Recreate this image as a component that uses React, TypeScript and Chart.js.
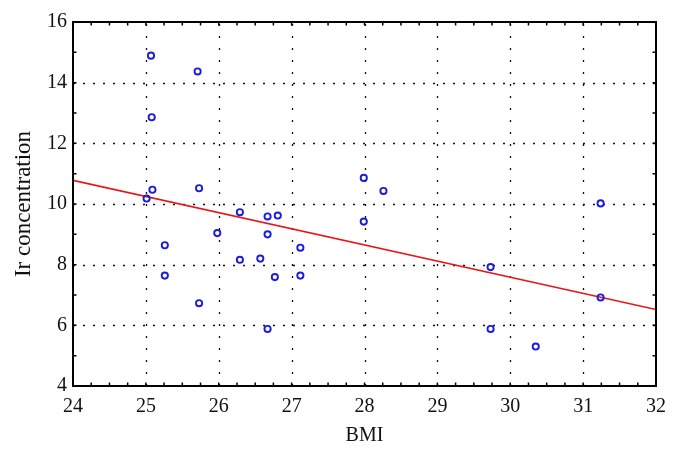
import React, { useEffect, useRef } from 'react';
import { Chart, registerables } from 'chart.js';

Chart.register(...registerables);

// BMI values (x) and Ir concentration (y) of each observation
const bmi = [
  25.07, 25.71, 25.08, 25.09, 25.01, 25.73, 26.29, 26.67, 26.81, 25.98,
  26.67, 25.26, 25.26, 26.29, 26.57, 26.77, 27.12, 27.12, 25.73, 26.67,
  27.99, 28.26, 27.99, 31.24, 29.73, 31.24, 29.73, 30.35,
];
const irConcentration = [
  14.89, 14.37, 12.86, 10.47, 10.18, 10.52, 9.73, 9.59, 9.62, 9.04,
  9.0, 8.64, 7.64, 8.16, 8.2, 7.59, 8.56, 7.64, 6.73, 5.88,
  10.86, 10.43, 9.42, 10.02, 7.92, 6.92, 5.88, 5.3,
];

// regression line end points
const fitX = [24, 32];
const fitY = [10.78, 6.52];

const xMin = 24;
const xMax = 32;
const xStep = 1;
const xMinorStep = 0.25;
const yMin = 4;
const yMax = 16;
const yStep = 2;
const yMinorStep = 1;

const FONT = "'Liberation Serif', 'Times New Roman', serif";

const framePlugin = {
  id: 'framePlugin',
  beforeDatasetsDraw(chart: any) {
    const { ctx, chartArea, scales } = chart;
    const { left, right, top, bottom } = chartArea;
    const xs = scales.x;
    const ys = scales.y;
    ctx.save();
    ctx.strokeStyle = '#111';
    ctx.lineWidth = 1.3;
    ctx.setLineDash([2, 10]);
    xs.ticks.forEach((t: any) => {
      if (t.value <= xMin || t.value >= xMax) return;
      const px = Math.round(xs.getPixelForValue(t.value)) + 0.5;
      ctx.beginPath();
      ctx.moveTo(px, bottom);
      ctx.lineTo(px, top);
      ctx.stroke();
    });
    ctx.setLineDash([2, 8]);
    ys.ticks.forEach((t: any) => {
      if (t.value <= yMin || t.value >= yMax) return;
      const py = Math.round(ys.getPixelForValue(t.value)) + 0.5;
      ctx.beginPath();
      ctx.moveTo(left, py);
      ctx.lineTo(right, py);
      ctx.stroke();
    });
    ctx.restore();
  },
  afterDraw(chart: any) {
    const { ctx, chartArea, scales } = chart;
    const { left, right, top, bottom } = chartArea;
    const xs = scales.x;
    const ys = scales.y;
    ctx.save();
    ctx.strokeStyle = '#000';
    ctx.setLineDash([]);
    ctx.lineWidth = 1.5;
    const tl = 3.5;
    for (let v = xMin; v <= xMax + 1e-9; v += xMinorStep) {
      const px = xs.getPixelForValue(v);
      ctx.beginPath();
      ctx.moveTo(px, bottom);
      ctx.lineTo(px, bottom - tl);
      ctx.moveTo(px, top);
      ctx.lineTo(px, top + tl);
      ctx.stroke();
    }
    for (let v = yMin; v <= yMax + 1e-9; v += yMinorStep) {
      const py = ys.getPixelForValue(v);
      ctx.beginPath();
      ctx.moveTo(left, py);
      ctx.lineTo(left + tl, py);
      ctx.moveTo(right, py);
      ctx.lineTo(right - tl, py);
      ctx.stroke();
    }
    ctx.lineWidth = 2;
    ctx.strokeRect(left, top, right - left, bottom - top);
    ctx.restore();
  },
};

export default function App() {
  const canvasRef = useRef<HTMLCanvasElement | null>(null);

  useEffect(() => {
    document.body.style.margin = '0';
    const canvas = canvasRef.current;
    if (!canvas) return;
    const points = bmi.map((b, i) => ({ x: b, y: irConcentration[i] }));
    const fit = fitX.map((fx, i) => ({ x: fx, y: fitY[i] }));
    const chart = new Chart(canvas, {
      type: 'scatter',
      data: {
        datasets: [
          {
            type: 'line',
            label: 'Fit',
            data: fit,
            borderColor: '#e8161b',
            borderWidth: 1.6,
            pointRadius: 0,
            fill: false,
            order: 2,
          } as any,
          {
            label: 'Ir concentration',
            data: points,
            pointStyle: 'circle',
            pointRadius: 3.1,
            pointBorderWidth: 1.9,
            borderColor: '#1c1cdc',
            backgroundColor: 'rgba(0,0,0,0)',
            order: 1,
          } as any,
        ],
      },
      options: {
        responsive: false,
        animation: false,
        events: [],
        layout: { padding: { left: 0, top: 22, right: 23, bottom: 0 } },
        plugins: {
          legend: { display: false },
          tooltip: { enabled: false },
        },
        scales: {
          x: {
            type: 'linear',
            min: xMin,
            max: xMax,
            ticks: {
              stepSize: xStep,
              color: '#111',
              padding: 9,
              font: { family: FONT, size: 20 },
              maxRotation: 0,
            },
            grid: { display: false, drawTicks: false },
            border: { display: false },
            title: {
              display: true,
              text: 'BMI',
              color: '#111',
              font: { family: FONT, size: 20 },
              padding: { top: 0, bottom: 9 },
            },
            afterFit(scale: any) {
              scale.height = 71;
            },
          },
          y: {
            type: 'linear',
            min: yMin,
            max: yMax,
            ticks: {
              stepSize: yStep,
              color: '#111',
              padding: 6,
              font: { family: FONT, size: 20 },
            },
            grid: { display: false, drawTicks: false },
            border: { display: false },
            title: {
              display: true,
              text: 'Ir concentration',
              color: '#111',
              font: { family: FONT, size: 23 },
              padding: { top: 10, bottom: 0 },
            },
            afterFit(scale: any) {
              scale.width = 73;
            },
          },
        },
      },
      plugins: [framePlugin],
    });
    return () => chart.destroy();
  }, []);

  return (
    <div style={{ width: 679, height: 457, background: '#fff' }}>
      <canvas ref={canvasRef} width={679} height={457} />
    </div>
  );
}
